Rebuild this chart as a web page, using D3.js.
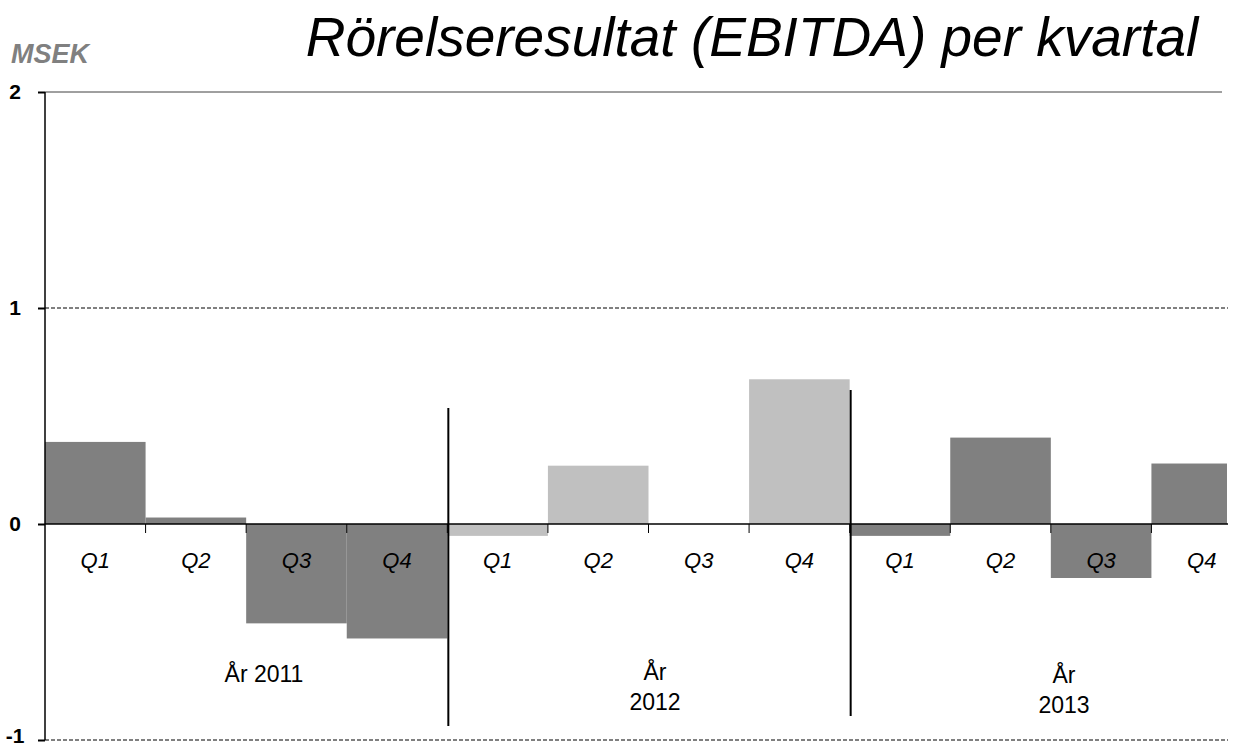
<!DOCTYPE html>
<html><head><meta charset="utf-8">
<script src="https://cdn.jsdelivr.net/npm/d3@7"></script>
<style>body{margin:0;background:#fff}svg{display:block}</style>
</head><body>
<svg id="c" width="1236" height="749"></svg>
<script>
const quarters = ["Q1","Q2","Q3","Q4","Q1","Q2","Q3","Q4","Q1","Q2","Q3","Q4"];
const years = ["2011","2011","2011","2011","2012","2012","2012","2012","2013","2013","2013","2013"];
const values = [0.38, 0.03, -0.46, -0.53, -0.055, 0.27, 0, 0.67, -0.055, 0.40, -0.25, 0.28];
const yearLabels = [["År 2011"],["År","2012"],["År","2013"]];
const yTicks = [2, 1, 0, -1];
const title = "Rörelseresultat (EBITDA) per kvartal";
const unit = "MSEK";

const svg = d3.select("#c");
const x = d3.scaleBand().domain(d3.range(12)).range([45, 1252]).padding(0);
const y = d3.scaleLinear().domain([-1, 2]).range([740, 92]);
const color = i => years[i] === "2012" ? "#c0c0c0" : "#808080";
const FONT = "Liberation Sans, Arial, sans-serif";

svg.append("defs").append("clipPath").attr("id","clip")
  .append("rect").attr("x",0).attr("y",0).attr("width",1227).attr("height",749);

// gridlines
svg.append("line").attr("x1",45).attr("x2",1222).attr("y1",y(2)).attr("y2",y(2))
  .attr("stroke","#404040").attr("stroke-width",1);
[1,-1].forEach(v=>{
  svg.append("line").attr("x1",45).attr("x2",1228).attr("y1",y(v)).attr("y2",y(v))
    .attr("stroke","#000").attr("stroke-width",1).attr("stroke-dasharray","4,2");
});

// bars
const g = svg.append("g").attr("clip-path","url(#clip)");
g.selectAll("rect.bar").data(values).enter().append("rect")
  .attr("x",(d,i)=>x(i)).attr("width",x.bandwidth())
  .attr("y",d=>y(Math.max(0,d))).attr("height",d=>Math.abs(y(d)-y(0)))
  .attr("fill",(d,i)=>color(i));

// zero axis line
svg.append("line").attr("x1",45).attr("x2",1228).attr("y1",y(0)).attr("y2",y(0))
  .attr("stroke","#000").attr("stroke-width",1.5);

// category ticks
svg.selectAll("line.ct").data(d3.range(1,12)).enter().append("line")
  .attr("x1",i=>x(i)).attr("x2",i=>x(i)).attr("y1",y(0)).attr("y2",y(0)+9)
  .attr("stroke","#000").attr("stroke-width",1);

// y axis
const yAxis = d3.axisLeft(y).tickValues(yTicks).tickSize(7).tickFormat(d=>d===-1?"-1":d);
const ya = svg.append("g").attr("transform","translate(45,0)").call(yAxis);
ya.select(".domain").remove();
ya.append("line").attr("x1",0).attr("x2",0).attr("y1",y(2)).attr("y2",y(-1)).attr("stroke","#000").attr("stroke-width",1.5);
ya.selectAll(".tick line").attr("stroke","#000").attr("stroke-width",2);
ya.selectAll(".tick text").attr("x",-30).attr("font-family",FONT)
  .attr("font-size",21).attr("font-weight","bold").attr("fill","#000").attr("text-anchor","middle")
  .attr("dy",d=>d===-1?"0.1em":"0.32em");

// quarter labels
svg.selectAll("text.q").data(quarters).enter().append("text")
  .attr("x",(d,i)=>x(i)+x.bandwidth()/2).attr("y",y(0)+44)
  .attr("text-anchor","middle").attr("font-family",FONT)
  .attr("font-style","italic").attr("font-size",22).attr("fill","#000").text(d=>d);

// year separators
const seps = [{i:4, y1:408, y2:726},{i:8, y1:390, y2:716}];
seps.forEach(s=>{
  svg.append("line").attr("x1",x(s.i)+1).attr("x2",x(s.i)+1).attr("y1",s.y1).attr("y2",s.y2)
    .attr("stroke","#000").attr("stroke-width",2);
});

// year labels
const yearPos = [{cx:264, y:682},{cx:655, y:680},{cx:1064, y:683}];
yearLabels.forEach((lines,k)=>{
  const t = svg.append("text").attr("text-anchor","middle")
    .attr("font-family",FONT).attr("font-size",23).attr("fill","#000");
  lines.forEach((l,j)=>t.append("tspan").attr("x",yearPos[k].cx).attr("y",yearPos[k].y + j*30).text(l));
});

// title
svg.append("text").attr("x",752).attr("y",56).attr("text-anchor","middle")
  .attr("font-family",FONT).attr("font-style","italic")
  .attr("font-size",55).attr("fill","#000").text(title);
svg.append("text").attr("x",11).attr("y",63)
  .attr("font-family",FONT).attr("font-style","italic").attr("font-weight","bold")
  .attr("font-size",27).attr("fill","#808080").text(unit);
</script>
</body></html>
